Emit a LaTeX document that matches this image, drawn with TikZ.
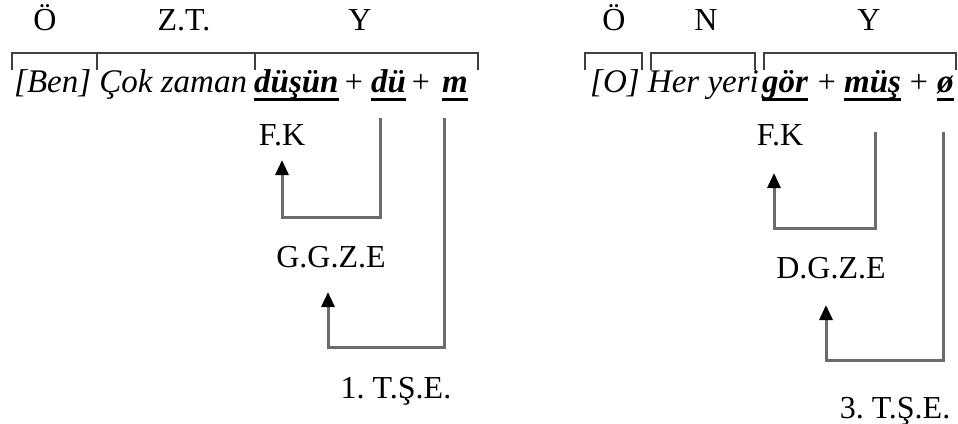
\documentclass[tikz,border=0pt]{standalone}
\usepackage{fontspec}
\setmainfont{Liberation Serif}
\usetikzlibrary{arrows.meta}
\frenchspacing
\begin{document}
\begin{tikzpicture}[x=1pt,y=-1pt,
  lbl/.style={font=\fontsize{32}{36}\selectfont, inner sep=0pt, anchor=base},
  txt/.style={font=\fontsize{33}{36}\selectfont\itshape, inner sep=0pt, anchor=base west},
  mor/.style={font=\fontsize{33}{36}\selectfont\bfseries\itshape, inner sep=0pt, anchor=base west},
  pls/.style={font=\fontsize{32}{36}\selectfont, inner sep=0pt, anchor=base},
  brk/.style={draw=black!75, line width=2pt},
  ul/.style={draw=black, line width=3pt},
  conn/.style={draw=black!58, line width=3pt, -{Triangle[width=13pt,length=15pt,fill=black,color=black]}}]
\useasboundingbox (0,0) rectangle (958,423);
% ---------- left ----------
\node[lbl] (o1) at (45,30) {Ö};
\node[lbl] (zt) at (184,30) {Z.T.};
\node[lbl] (y1) at (360,30) {Y};
\draw[brk] (12,70) -- (12,53) -- (478,53) -- (478,70);
\draw[brk] (97,53) -- (97,70);
\draw[brk] (255,53) -- (255,70);
\node[txt] (ben) at (14,92) {[Ben] Çok zaman};
\node[mor] (dusun) at (254,92) {düşün};
\node[pls] (p1) at (354,92) {+};
\node[mor] (du) at (371,92) {dü};
\node[pls] (p2) at (421,92) {+};
\node[mor] (m) at (442,92) {m};
\foreach \n in {dusun,du,m}{\draw[ul] ([yshift=-7pt]\n.base west) -- ([yshift=-7pt]\n.base east);}
\node[lbl] (fk1) at (282,145) {F.K};
\node[lbl] (ggze) at (331,267) {G.G.Z.E};
\node[lbl] (tse1) at (396,398) {1. T.Ş.E.};
\coordinate (s1) at (380,118);
\coordinate (s2) at (444,118);
\coordinate (t1) at (282,160);
\coordinate (t2) at (328,292);
\draw[conn] (s1) -- (380,217) -| (t1);
\draw[conn] (s2) -- (444,347) -| (t2);
% ---------- right ----------
\node[lbl] (o2) at (614,30) {Ö};
\node[lbl] (nn) at (706,30) {N};
\node[lbl] (y2) at (869,30) {Y};
\draw[brk] (585,70) -- (585,53) -- (642,53) -- (642,70);
\draw[brk] (651,70) -- (651,53) -- (755,53) -- (755,70);
\draw[brk] (764,70) -- (764,53) -- (956,53) -- (956,70);
\node[txt] (oo) at (590,92) {[O] Her yeri};
\node[mor] (gor) at (762,92) {gör};
\node[pls] (p3) at (827,92) {+};
\node[mor] (mus) at (844,92) {müş};
\node[pls] (p4) at (919,92) {+};
\node[mor] (oe) at (937,92) {ø};
\foreach \n in {gor,mus,oe}{\draw[ul] ([yshift=-7pt]\n.base west) -- ([yshift=-7pt]\n.base east);}
\node[lbl] (fk2) at (780,145) {F.K};
\node[lbl] (dgze) at (831,278) {D.G.Z.E};
\node[lbl] (tse3) at (895,418) {3. T.Ş.E.};
\coordinate (s3) at (875,132);
\coordinate (s4) at (943,132);
\coordinate (t3) at (774,173);
\coordinate (t4) at (826,305);
\draw[conn] (s3) -- (875,228) -| (t3);
\draw[conn] (s4) -- (943,360) -| (t4);
\end{tikzpicture}
\end{document}
